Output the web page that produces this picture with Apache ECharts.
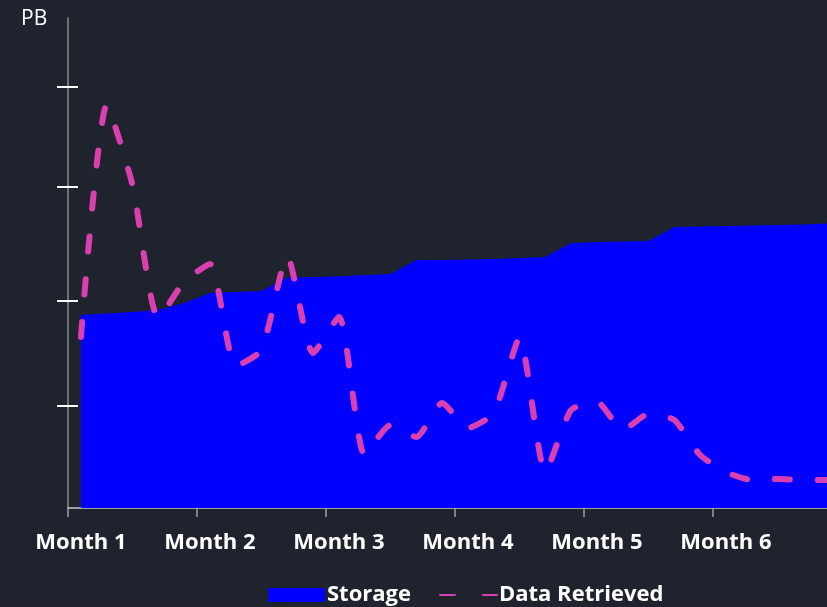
<!DOCTYPE html>
<html>
<head>
<meta charset="utf-8">
<script src="https://cdn.jsdelivr.net/npm/echarts@6/dist/echarts.min.js"></script>
<style>
    html, body { margin: 0; padding: 0; background: #1f232d; }
    #storage_chart { width: 827px; height: 607px; }
</style>
</head>
<body>
<div id="storage_chart"></div>
<script>
// month labels shown on the x axis (5 periods per month)
const monthLabels = ["Month 1", "Month 2", "Month 3", "Month 4", "Month 5", "Month 6"];
const periodsPerMonth = 5;
// y axis tick positions (PB), unlabeled in the original
const yTicks = [1.02, 2.07, 3.21, 4.21];

// total stored, PB
const storage = [
    1.93, 1.945, 1.96, 1.98, 2.05,
    2.15, 2.16, 2.17, 2.305, 2.31,
    2.315, 2.33, 2.34, 2.48, 2.48,
    2.485, 2.49, 2.50, 2.51, 2.65,
    2.66, 2.665, 2.67, 2.81, 2.815,
    2.82, 2.825, 2.83, 2.835, 2.845
];
// data retrieved, PB
const retrieved = [
    1.71, 4.03, 3.23, 1.90, 2.26,
    2.44, 1.42, 1.58, 2.52, 1.55,
    1.91, 0.53, 0.83, 0.71, 1.05,
    0.80, 0.95, 1.70, 0.36, 0.98,
    1.06, 0.78, 0.94, 0.88, 0.53,
    0.36, 0.28, 0.29, 0.28, 0.28
];

let categories = [];
monthLabels.forEach(m => {
    for (let p = 1; p <= periodsPerMonth; p++) {
        categories.push(m + " W" + p);
    }
});

const font = "'Open Sans', 'DejaVu Sans', sans-serif";

let chart = echarts.init(document.getElementById("storage_chart"));
chart.setOption({
    backgroundColor: "#1f232d",
    animation: false,
    title: {
        text: "PB",
        left: 16,
        top: 4,
        textStyle: {
            color: "#ffffff",
            fontFamily: font,
            fontWeight: "normal",
            fontSize: 21
        }
    },
    legend: {
        left: 263,
        bottom: -4,
        itemWidth: 57,
        itemHeight: 14,
        itemGap: 28,
        textStyle: {
            color: "#ffffff",
            fontFamily: font,
            fontWeight: "bold",
            fontSize: 22,
            padding: [0, 0, 0, -3]
        },
        data: [
            { name: "Storage", icon: "rect" },
            { name: "Data Retrieved", itemStyle: { opacity: 0 } }
        ]
    },
    grid: {
        left: 68,
        top: 18,
        height: 490,
        width: 774,
        outerBoundsMode: "none"
    },
    xAxis: {
        type: "category",
        boundaryGap: true,
        data: categories,
        axisLine: { lineStyle: { color: "#c8c8c8", width: 1.5 } },
        axisTick: {
            show: true,
            interval: periodsPerMonth - 1,
            length: 9,
            lineStyle: { color: "#a0a0a0", width: 1.5 }
        },
        axisLabel: {
            interval: periodsPerMonth - 1,
            margin: 24,
            color: "#ffffff",
            fontFamily: font,
            fontWeight: "bold",
            fontSize: 22,
            formatter: v => v.split(" W")[0]
        },
        splitLine: { show: false }
    },
    yAxis: [
        {
            type: "value",
            min: 0,
            max: 4.9,
            position: "left",
            axisLine: { show: true, lineStyle: { color: "#8c8c8c", width: 1.5 } },
            axisTick: {
                show: true,
                inside: false,
                length: 11,
                customValues: yTicks,
                lineStyle: { color: "#ffffff", width: 2 }
            },
            axisLabel: { show: false },
            splitLine: { show: false }
        },
        {
            type: "value",
            min: 0,
            max: 4.9,
            position: "left",
            axisLine: { show: false },
            axisTick: {
                show: true,
                inside: true,
                length: 10,
                customValues: yTicks,
                lineStyle: { color: "#ffffff", width: 2 }
            },
            axisLabel: { show: false },
            splitLine: { show: false }
        }
    ],
    series: [
        {
            name: "Storage",
            type: "line",
            data: storage,
            symbol: "none",
            itemStyle: { color: "#0000ff" },
            lineStyle: { width: 0 },
            areaStyle: { color: "#0000ff", opacity: 1 }
        },
        {
            name: "Data Retrieved",
            type: "line",
            data: retrieved,
            symbol: "none",
            smooth: 0.2,
            itemStyle: { color: "#d93fae" },
            lineStyle: {
                color: "#d93fae",
                width: 6,
                type: [15, 28],
                cap: "round"
            }
        }
    ]
});
</script>
</body>
</html>
